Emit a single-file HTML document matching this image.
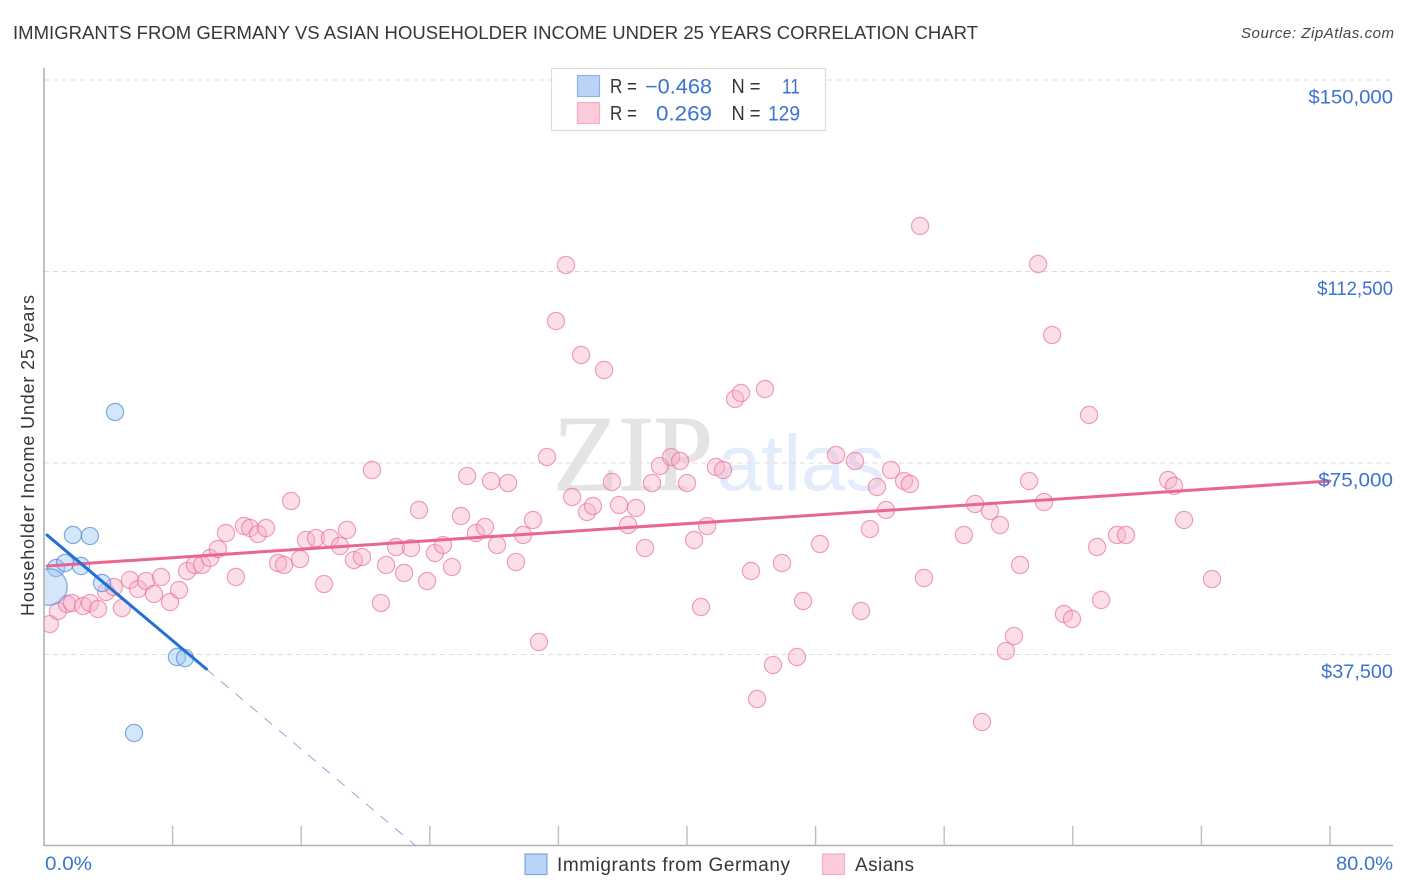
<!DOCTYPE html>
<html lang="en">
<head>
<meta charset="utf-8">
<title>Immigrants from Germany vs Asian Householder Income Under 25 Years Correlation Chart</title>
<style>
html,body{margin:0;padding:0;background:#fff;width:1406px;height:892px;overflow:hidden}
svg{display:block;font-family:"Liberation Sans",sans-serif}
</style>
</head>
<body>
<svg id="chart" xmlns="http://www.w3.org/2000/svg" width="1406" height="892" viewBox="0 0 1406 892">
  <rect x="0" y="0" width="1406" height="892" fill="#fff"/>
  <text x="13" y="39" font-size="18.5" fill="#33373d" textLength="965" lengthAdjust="spacing">IMMIGRANTS FROM GERMANY VS ASIAN HOUSEHOLDER INCOME UNDER 25 YEARS CORRELATION CHART</text>
  <text x="1394" y="38" font-size="15" font-style="italic" fill="#444" text-anchor="end" textLength="153" lengthAdjust="spacing">Source: ZipAtlas.com</text>

  <g>
    <text x="553" y="490" font-family="'Liberation Serif',serif" font-size="108" fill="#e4e4e4" stroke="#e4e4e4" stroke-width="1" textLength="160" lengthAdjust="spacingAndGlyphs">ZIP</text>
    <text x="717" y="490" font-size="79" fill="#e2ecfa" textLength="168" lengthAdjust="spacingAndGlyphs">atlas</text>
  </g>

  <g id="grid"></g>
  <g id="pink-points"></g>
  <g id="blue-points"></g>
  <rect x="0" y="60" width="44" height="786" fill="#fff"/>
  <g id="axes"></g>
  <g id="trends"></g>
  <g id="tick-labels"></g>

  <text transform="translate(34,455.5) rotate(-90)" font-size="18" fill="#33373d" text-anchor="middle" textLength="321" lengthAdjust="spacing">Householder Income Under 25 years</text>

  <g>
    <rect x="551.5" y="68.5" width="274" height="62" fill="#fff" stroke="#dcdcdc" stroke-width="1.2"/>
    <rect x="577.5" y="75.5" width="22" height="21" fill="#b9d4f6" stroke="#8fb2e2" stroke-width="1.2"/>
    <rect x="577.5" y="102.5" width="22" height="21" fill="#fccbdc" stroke="#f3aec6" stroke-width="1.2"/>
    <g font-size="20" fill="#33373d">
      <text x="610" y="93" textLength="27" lengthAdjust="spacingAndGlyphs">R =</text>
      <text x="731.5" y="93" textLength="29" lengthAdjust="spacingAndGlyphs">N =</text>
      <text x="610" y="120" textLength="27" lengthAdjust="spacingAndGlyphs">R =</text>
      <text x="731.5" y="120" textLength="29" lengthAdjust="spacingAndGlyphs">N =</text>
    </g>
    <g font-size="21" fill="#3b73d1">
      <text x="645" y="93.5" textLength="67" lengthAdjust="spacingAndGlyphs">−0.468</text>
      <text x="782" y="93.5" textLength="18" lengthAdjust="spacingAndGlyphs">11</text>
      <text x="656" y="120.5" textLength="56" lengthAdjust="spacingAndGlyphs">0.269</text>
      <text x="768" y="120.5" textLength="32" lengthAdjust="spacingAndGlyphs">129</text>
    </g>
  </g>

  <g>
    <rect x="525" y="854" width="22" height="20.5" fill="#b9d4f6" stroke="#7fa6de" stroke-width="1.2"/>
    <text x="557" y="871" font-size="19" fill="#33373d" textLength="233" lengthAdjust="spacing">Immigrants from Germany</text>
    <rect x="822.5" y="854" width="22" height="20.5" fill="#fccbdc" stroke="#f3aec6" stroke-width="1.2"/>
    <text x="855" y="871" font-size="19" fill="#33373d" textLength="59" lengthAdjust="spacing">Asians</text>
  </g>
</svg>

<script>
// ---- chart data ----
const xTicks = [0, 8, 16, 24, 32, 40, 48, 56, 64, 72, 80];
const xEndLabels = ["0.0%", "80.0%"];
const yTicks = [37500, 75000, 112500, 150000];
const yTickLabels = ["$37,500", "$75,000", "$112,500", "$150,000"];

const germanyPct = [4.42, 1.80, 2.86, 0.75, 1.31, 2.30, 3.61, 8.27, 8.77, 5.60, 0.31];
const germanyIncome = [84990, 60900, 60700, 54440, 55420, 54830, 51500, 37010, 36810, 22130, 50720];
const germanyWeight = [1, 1, 1, 1, 1, 1, 1, 1, 1, 1, 4.5];

const asiansPct = [0.37,0.87,1.43,1.74,2.43,2.86,3.36,3.86,4.35,4.85,5.35,5.85,6.35,6.84,7.28,7.84,8.40,8.90,9.39,9.83,10.33,10.82,11.32,11.94,12.44,12.82,13.31,13.81,14.56,14.93,15.37,15.93,16.30,16.92,17.42,17.79,18.41,18.85,19.28,19.78,20.40,20.96,21.28,21.90,22.40,22.83,23.33,23.83,24.32,24.82,25.38,25.94,26.32,26.87,27.43,27.81,28.18,28.87,29.36,29.80,30.42,30.79,31.29,31.85,32.47,32.85,33.41,33.78,34.15,34.84,35.33,35.77,36.33,36.83,37.39,37.82,38.32,39.01,39.57,40.00,40.44,40.87,41.25,41.80,42.24,42.99,43.36,43.98,44.36,44.85,45.35,45.91,46.84,47.22,48.27,49.27,50.45,50.83,51.38,51.82,52.38,52.69,53.50,53.87,54.50,54.74,57.23,57.92,58.35,58.85,59.47,59.84,60.34,60.72,61.28,61.84,62.21,62.71,63.45,63.95,65.01,65.51,65.76,66.75,67.31,69.93,70.30,70.92,72.66];
const asiansIncome = [43470,46020,47390,47580,47000,47580,46410,49740,50720,46600,52090,50330,51890,49350,52680,47780,50130,53850,55030,55030,56400,58160,61290,52680,62660,62270,61100,62270,55420,55030,67560,56200,59920,60310,51300,60310,58750,61880,56000,56590,73630,47580,55030,58550,53460,58350,65800,51890,57370,58940,54630,64620,72450,61290,62470,71470,58940,71080,55610,60900,63840,39950,76170,102800,113770,68340,96150,65400,66580,93210,71280,66770,62860,66190,58350,71080,74410,76170,75390,71080,59920,46800,62660,74220,73630,87530,88710,53850,28790,89490,35440,55420,37010,47980,59140,76570,75390,46020,62070,70300,65800,73630,71470,70890,121410,52480,60900,66970,24280,65600,62860,38180,41120,55030,71470,113970,67360,100060,45430,44450,84400,58550,48170,60900,60900,71670,70500,63840,52280];

const germanyTrendPct = [0.19, 10.10];
const germanyTrendIncome = [60890, 34660];
const germanyTrendExtPct = [10.10, 23.14];
const germanyTrendExtIncome = [34660, 0];
const asiansTrendPct = [0.19, 80];
const asiansTrendIncome = [54830, 71470];

// ---- axis functions ----
const xPlotLeft = 44, xPlotRight = 1330, yPlotBottom = 846, yPlotTop150 = 80;
const xMaxValue = 80, yMaxValue = 150000;
function xScale(v) { return xPlotLeft + (v / xMaxValue) * (xPlotRight - xPlotLeft); }
function yScale(v) { return yPlotBottom - (v / yMaxValue) * (yPlotBottom - yPlotTop150); }

const NS = "http://www.w3.org/2000/svg";
function make(tag, attrs, parent) {
  const el = document.createElementNS(NS, tag);
  for (const k in attrs) el.setAttribute(k, attrs[k]);
  parent.appendChild(el);
  return el;
}
// rendered width of a tick label: the original face has wide zeros and a narrow 1
function labelWidth(s) {
  let w = 0;
  for (const ch of s) {
    if (ch === ",") w += 5;
    else if (ch === "1") w += 7;
    else if (ch === "0") w += 12.9;
    else if (ch === "$") w += 11;
    else w += 10;
  }
  return w;
}

const grid = document.getElementById("grid");
const axes = document.getElementById("axes");
const tickLabels = document.getElementById("tick-labels");
const pink = document.getElementById("pink-points");
const blue = document.getElementById("blue-points");
const trends = document.getElementById("trends");

// gridlines and y tick labels
yTicks.forEach(function (v, i) {
  const line = make("line", {x1: xPlotLeft, x2: 1393, y1: yScale(v), y2: yScale(v), stroke: "#dcdcdc", "stroke-width": 1, "stroke-dasharray": "5 4"}, grid);
  
  
  const label = make("text", {x: 1393, y: yScale(v) + 23.5, "text-anchor": "end", "font-size": 19, fill: "#3b73d1", textLength: labelWidth(yTickLabels[i]), lengthAdjust: "spacingAndGlyphs"}, tickLabels);
  
  
  label.textContent = yTickLabels[i];
});

// axes
const yAxisLine = make("line", {x1: 44, x2: 44, y1: 68, y2: 846, stroke: "#a8a8a8", "stroke-width": 1.4}, axes);


const xAxisLine = make("line", {x1: 44, x2: 1393, y1: 845.5, y2: 845.5, stroke: "#b0b0b0", "stroke-width": 1.4}, axes);


xTicks.slice(1).forEach(function (v) {
  const tick = make("line", {x1: xScale(v), x2: xScale(v), y1: 826, y2: 845.5, stroke: "#bdbdbd", "stroke-width": 1.4}, axes);
  
  
});

// x end labels
const xLabelStart = make("text", {x: 45, y: 870, "font-size": 19, fill: "#3b73d1", textLength: 47, lengthAdjust: "spacingAndGlyphs"}, tickLabels);


xLabelStart.textContent = xEndLabels[0];
const xLabelEnd = make("text", {x: 1393, y: 870, "font-size": 19, "text-anchor": "end", fill: "#3b73d1", textLength: 57, lengthAdjust: "spacingAndGlyphs"}, tickLabels);


xLabelEnd.textContent = xEndLabels[1];

// asians points
asiansPct.forEach(function (p, i) {
  const c = make("circle", {cx: xScale(p), cy: yScale(asiansIncome[i]), r: 8.6, fill: "rgba(249,176,202,0.42)", stroke: "rgba(230,105,150,0.62)", "stroke-width": 1.2}, pink);
  
  
});

// germany points
germanyPct.forEach(function (p, i) {
  const c = make("circle", {cx: xScale(p), cy: yScale(germanyIncome[i]), r: 8.6 * Math.sqrt(germanyWeight[i]), fill: "rgba(160,200,245,0.45)", stroke: "rgba(60,125,210,0.62)", "stroke-width": 1.2}, blue);
  
  
});

// trend lines
const asiansTrend = make("line", {x1: xScale(asiansTrendPct[0]), y1: yScale(asiansTrendIncome[0]), x2: xScale(asiansTrendPct[1]), y2: yScale(asiansTrendIncome[1]), stroke: "#e8668f", "stroke-width": 3, "stroke-linecap": "round"}, trends);


const germanyTrendExt = make("line", {x1: xScale(germanyTrendExtPct[0]), y1: yScale(germanyTrendExtIncome[0]), x2: xScale(germanyTrendExtPct[1]), y2: yScale(germanyTrendExtIncome[1]), stroke: "#8ea6dc", "stroke-width": 1, "stroke-dasharray": "10 9"}, trends);


const germanyTrend = make("line", {x1: xScale(germanyTrendPct[0]), y1: yScale(germanyTrendIncome[0]), x2: xScale(germanyTrendPct[1]), y2: yScale(germanyTrendIncome[1]), stroke: "#2270d6", "stroke-width": 3, "stroke-linecap": "round"}, trends);


</script>
</body>
</html>
